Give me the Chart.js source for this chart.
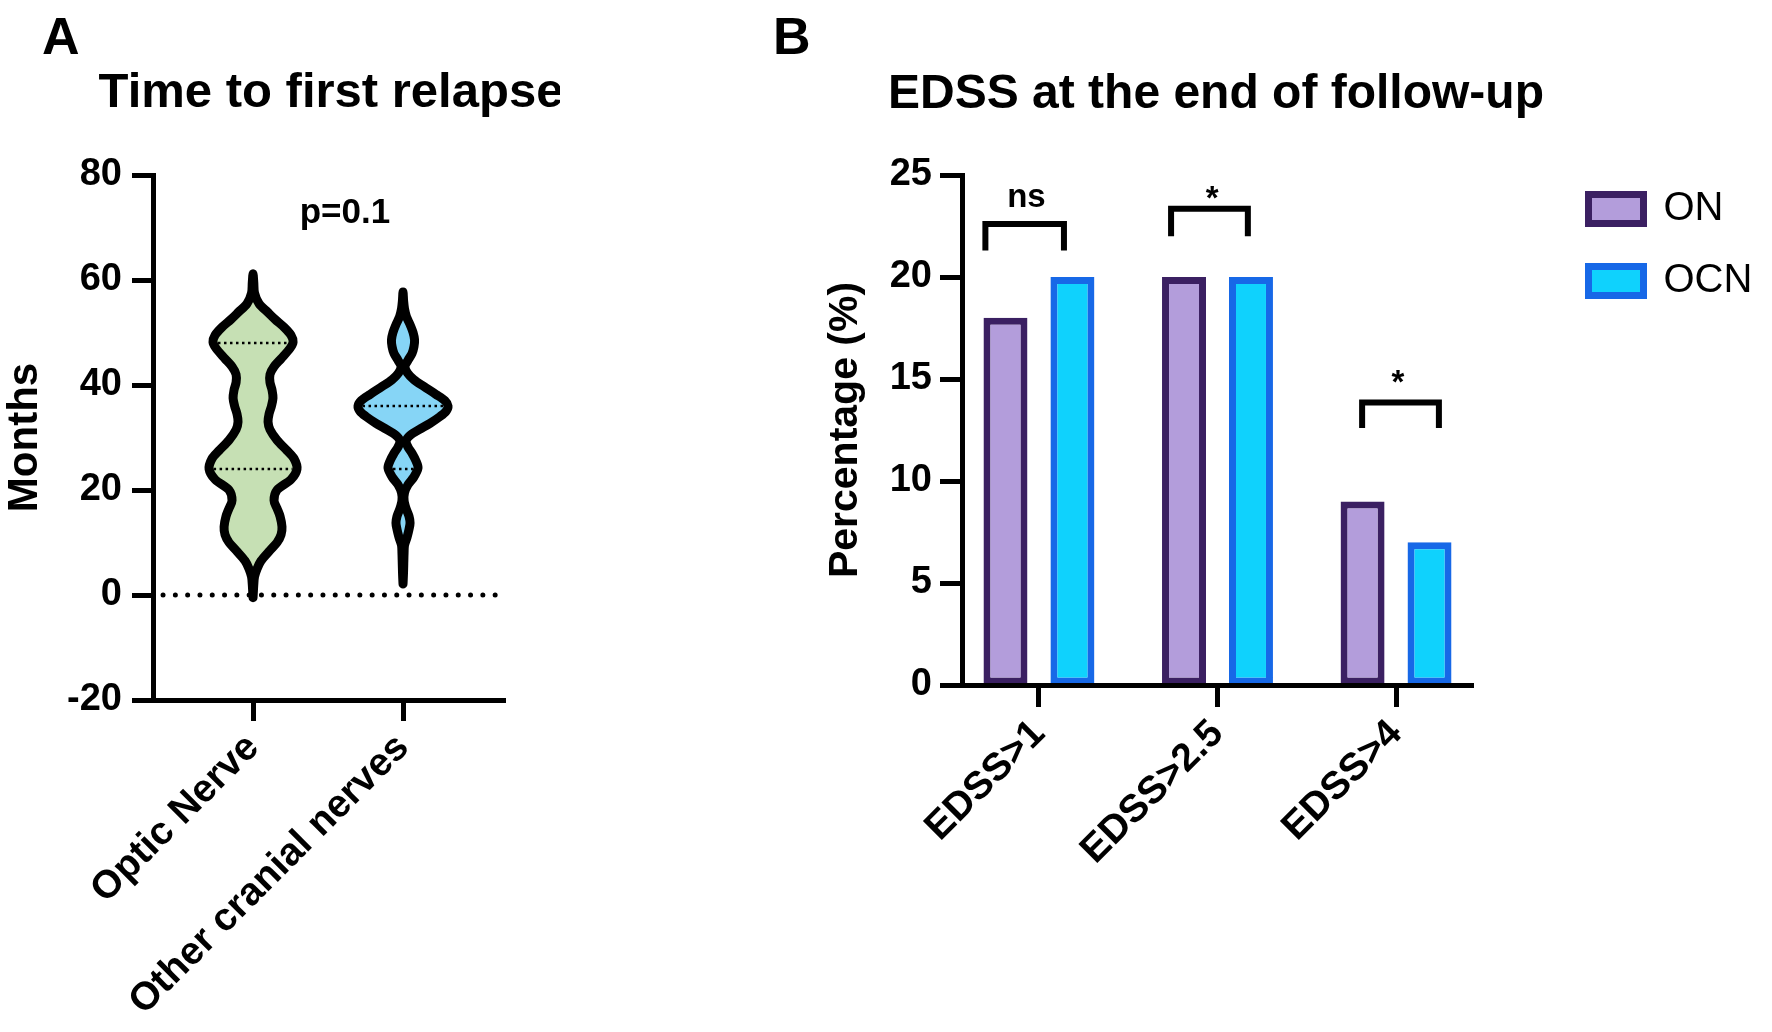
<!DOCTYPE html>
<html>
<head>
<meta charset="utf-8">
<script src="https://cdn.jsdelivr.net/npm/chart.js@4.4.0/dist/chart.umd.min.js"></script>
<style>
  html, body { margin: 0; padding: 0; background: #fff; }
  body { width: 1772px; height: 1032px; position: relative; overflow: hidden; }
  canvas { position: absolute; top: 0; }
  #chartA { left: 0; }
  #chartB { left: 700px; }
</style>
</head>
<body>
<canvas id="chartA" width="560" height="1032"></canvas>
<canvas id="chartB" width="1072" height="1032"></canvas>
<script>
// ---- panel A: time to first relapse (violins) ----
var groupsA = ['Optic Nerve', 'Other cranial nerves'];
var yTicksA = [-20, 0, 20, 40, 60, 80];
var pValue = 'p=0.1';

// violin outlines: months and half-width of the density (x-axis units)
var opticMonths = [-0.5, 2, 3.5, 5, 6.5, 8.5, 10, 11.5, 13, 15, 16.5, 18, 20, 22, 24, 26, 27.5, 29.5, 31.5, 33, 34.5, 36, 37.5, 39, 40.5, 42, 43.5, 45, 47, 48.2, 49.5, 51, 52.5, 53.8, 55.5, 57.5, 59.5, 61.2];
var opticWidth = [0, 0.005, 0.01, 0.027, 0.053, 0.113, 0.16, 0.187, 0.193, 0.18, 0.16, 0.14, 0.16, 0.253, 0.293, 0.273, 0.227, 0.16, 0.113, 0.1, 0.107, 0.123, 0.133, 0.127, 0.113, 0.113, 0.14, 0.187, 0.247, 0.267, 0.253, 0.207, 0.147, 0.1, 0.04, 0.01, 0.005, 0];
var otherMonths = [2.1, 4, 6, 8, 9.5, 11, 12.5, 13.7, 15, 16.5, 18, 19.5, 21, 22.5, 24.2, 25.5, 27, 28.2, 29.3, 30.4, 31.5, 32.7, 34, 35, 36, 37, 38.2, 39.7, 41, 42.3, 43.5, 44.7, 46, 47.3, 48.6, 50, 51.5, 53, 54.5, 56, 57.7];
var otherWidth = [0, 0.003, 0.005, 0.007, 0.01, 0.027, 0.04, 0.047, 0.04, 0.02, 0.007, 0.01, 0.033, 0.073, 0.1, 0.087, 0.06, 0.033, 0.02, 0.047, 0.107, 0.18, 0.247, 0.287, 0.3, 0.28, 0.22, 0.14, 0.073, 0.03, 0.013, 0.033, 0.06, 0.073, 0.077, 0.067, 0.047, 0.023, 0.01, 0.004, 0];
var opticQuartiles = [24, 48];
var otherQuartiles = [24, 36];

// ---- panel B: EDSS at the end of follow-up ----
var groupsB = ['EDSS>1', 'EDSS>2.5', 'EDSS>4'];
var yTicksB = [0, 5, 10, 15, 20, 25];
var onValues = [18, 20, 9];
var ocnValues = [20, 20, 7];
var sigLabels = ['ns', '*', '*'];
var bracketFrom = [-0.30, 0.74, 1.81];
var bracketTo = [0.14, 1.17, 2.24];
var bracketTop = [22.6, 23.35, 13.85];
var bracketLeg = [21.3, 22.0, 12.6];
var sigX = [-0.07, 0.97, 2.01];
var sigY = [23.45, 23.35, 14.33];

Chart.defaults.font.family = '"Liberation Sans", Arial, Helvetica, sans-serif';
Chart.defaults.color = '#000';

var FONT = '"Liberation Sans", Arial, Helvetica, sans-serif';

function violinPoints(center, months, widths) {
  var right = months.map(function (m, i) { return {x: center + widths[i], y: m}; });
  var left = months.map(function (m, i) { return {x: center - widths[i], y: m}; }).reverse();
  return right.concat(left.slice(1));
}

function widthAt(months, widths, m) {
  for (var i = 1; i < months.length; i++) {
    if (m <= months[i]) {
      var t = (m - months[i - 1]) / (months[i] - months[i - 1]);
      return widths[i - 1] + t * (widths[i] - widths[i - 1]);
    }
  }
  return 0;
}

function quartileLines(center, months, widths, qs) {
  return qs.map(function (q) {
    var w = widthAt(months, widths, q) - 0.03;
    return {
      data: [{x: center - w, y: q}, {x: center + w, y: q}],
      borderColor: '#000', borderWidth: 2.5, borderDash: [2.5, 3.5],
      pointRadius: 0, fill: false, order: 2
    };
  });
}

// fill the inside of a closed line using the element's own path
var shapeFill = {
  id: 'shapeFill',
  beforeDatasetsDraw: function (chart) {
    var ctx = chart.ctx;
    chart.data.datasets.forEach(function (ds, i) {
      if (!ds.shapeFill) return;
      var meta = chart.getDatasetMeta(i);
      var line = meta.dataset;
      line.updateControlPoints(chart.chartArea, 'x');
      ctx.save();
      ctx.beginPath();
      line.path(ctx);
      ctx.closePath();
      ctx.fillStyle = ds.shapeFill;
      ctx.fill();
      ctx.restore();
    });
  }
};

function textPlugin(items) {
  return {
    id: 'figText',
    afterDraw: function (chart) {
      var ctx = chart.ctx;
      items.forEach(function (t) {
        var x = t.x, y = t.y;
        if (t.data) {
          x = chart.scales.x.getPixelForValue(t.x);
          y = chart.scales.y.getPixelForValue(t.y);
        }
        ctx.save();
        ctx.font = t.font;
        ctx.fillStyle = '#000';
        ctx.textAlign = t.align || 'center';
        ctx.textBaseline = 'alphabetic';
        ctx.fillText(t.text, x, y);
        ctx.restore();
      });
    }
  };
}

var legendSpot = {
  id: 'legendSpot',
  beforeDraw: function (chart) {
    var lg = chart.legend;
    var w = lg.width, h = lg.height;
    lg.left = 856.5; lg.top = 157;
    lg.right = lg.left + w; lg.bottom = lg.top + h;
  }
};

var tickGrid = function (len) {
  return {drawOnChartArea: false, drawTicks: true, tickLength: len, tickWidth: 5, tickColor: '#000', offset: false};
};
var axisBorder = {display: true, width: 5, color: '#000', z: 1};

// ---------- chart A ----------
var dsA = [
  {data: violinPoints(1, opticMonths, opticWidth), shapeFill: '#c6e0b4', borderColor: '#000', borderWidth: 9,
   tension: 0.3, pointRadius: 0, fill: false, borderJoinStyle: 'round', borderCapStyle: 'round', order: 1},
  {data: violinPoints(2, otherMonths, otherWidth), shapeFill: '#86d5f6', borderColor: '#000', borderWidth: 9,
   tension: 0.3, pointRadius: 0, fill: false, borderJoinStyle: 'round', borderCapStyle: 'round', order: 1}
].concat(quartileLines(1, opticMonths, opticWidth, opticQuartiles))
 .concat(quartileLines(2, otherMonths, otherWidth, otherQuartiles))
 .concat([{data: [{x: 0.4, y: 0}, {x: 2.67, y: 0}], borderColor: '#000', borderWidth: 5,
           borderDash: [0, 12.3], borderCapStyle: 'round', pointRadius: 0, fill: false, order: 3}]);

new Chart(document.getElementById('chartA'), {
  type: 'line',
  data: {datasets: dsA},
  options: {
    responsive: false, animation: false, events: [],
    layout: {padding: {top: 175, right: 55, bottom: 0, left: 0}},
    plugins: {legend: {display: false}, tooltip: {enabled: false}},
    scales: {
      x: {
        type: 'linear', min: 0.333, max: 2.68, offset: false,
        afterBuildTicks: function (s) { s.ticks = groupsA.map(function (g, i) { return {value: i + 1}; }); },
        afterFit: function (s) { s.height = 332; },
        ticks: {callback: function (v) { return groupsA[v - 1]; }, autoSkip: false,
                minRotation: 45, maxRotation: 45, padding: 4, font: {size: 39, weight: 'bold'}},
        grid: tickGrid(21), border: axisBorder
      },
      y: {
        min: yTicksA[0], max: yTicksA[yTicksA.length - 1],
        afterFit: function (s) { s.width = 153; },
        ticks: {stepSize: yTicksA[1] - yTicksA[0], padding: 10, font: {size: 38, weight: 'bold'}},
        title: {display: true, text: 'Months', font: {size: 42, weight: 'bold'}, padding: {top: 0, bottom: 0}},
        grid: tickGrid(21), border: axisBorder
      }
    }
  },
  plugins: [shapeFill, textPlugin([
    {text: 'A', x: 42, y: 54, font: 'bold 52px ' + FONT, align: 'left'},
    {text: 'Time to first relapse', x: 331, y: 107, font: 'bold 49px ' + FONT},
    {text: pValue, data: true, x: 1.613, y: 70.9, font: 'bold 35px ' + FONT}
  ])]
});

// ---------- chart B ----------
var dsB = [
  {label: 'ON', data: onValues.map(function (v, i) { return {x: i, y: v}; }),
   backgroundColor: '#b39ddb', borderColor: '#3b2062', borderWidth: 7, borderSkipped: false,
   categoryPercentage: 0.75, barPercentage: 0.657, order: 2},
  {label: 'OCN', data: ocnValues.map(function (v, i) { return {x: i, y: v}; }),
   backgroundColor: '#0fd2fd', borderColor: '#1768e7', borderWidth: 7, borderSkipped: false,
   categoryPercentage: 0.75, barPercentage: 0.657, order: 2}
].concat(sigLabels.map(function (s, i) {
  return {type: 'line', label: 'bracket',
    data: [{x: bracketFrom[i], y: bracketLeg[i]}, {x: bracketFrom[i], y: bracketTop[i]},
           {x: bracketTo[i], y: bracketTop[i]}, {x: bracketTo[i], y: bracketLeg[i]}],
    borderColor: '#000', borderWidth: 6, pointRadius: 0, fill: false, tension: 0,
    borderJoinStyle: 'miter', order: 0};
}));

var sigTexts = sigLabels.map(function (s, i) {
  return {text: s, data: true, x: sigX[i], y: sigY[i], font: 'bold 33px ' + FONT};
});

new Chart(document.getElementById('chartB'), {
  type: 'bar',
  data: {datasets: dsB},
  options: {
    responsive: false, animation: false, events: [],
    layout: {padding: {top: 175, right: 299, bottom: 0, left: 0}},
    plugins: {
      tooltip: {enabled: false},
      legend: {
        position: 'chartArea', align: 'start',
        labels: {boxWidth: 55, boxHeight: 29, padding: 32, font: {size: 40}, color: '#000',
                 filter: function (item) { return item.datasetIndex < 2; }}
      }
    },
    scales: {
      x: {
        type: 'linear', min: -0.431, max: 2.431, offset: false,
        afterBuildTicks: function (s) { s.ticks = groupsB.map(function (g, i) { return {value: i}; }); },
        afterFit: function (s) { s.height = 347; },
        ticks: {callback: function (v) { return groupsB[v]; }, autoSkip: false,
                minRotation: 45, maxRotation: 45, padding: 4, font: {size: 39, weight: 'bold'}},
        grid: tickGrid(22), border: axisBorder
      },
      y: {
        min: yTicksB[0], max: yTicksB[yTicksB.length - 1],
        afterFit: function (s) { s.width = 262; },
        ticks: {stepSize: yTicksB[1] - yTicksB[0], padding: 8, font: {size: 38, weight: 'bold'}},
        title: {display: true, text: 'Percentage (%)', font: {size: 41, weight: 'bold'}, padding: {top: 121, bottom: 0}},
        grid: tickGrid(22), border: axisBorder
      }
    }
  },
  plugins: [legendSpot, textPlugin([
    {text: 'B', x: 73, y: 54, font: 'bold 52px ' + FONT, align: 'left'},
    {text: 'EDSS at the end of follow-up', x: 516, y: 108, font: 'bold 48px ' + FONT}
  ].concat(sigTexts))]
});
</script>
</body>
</html>
